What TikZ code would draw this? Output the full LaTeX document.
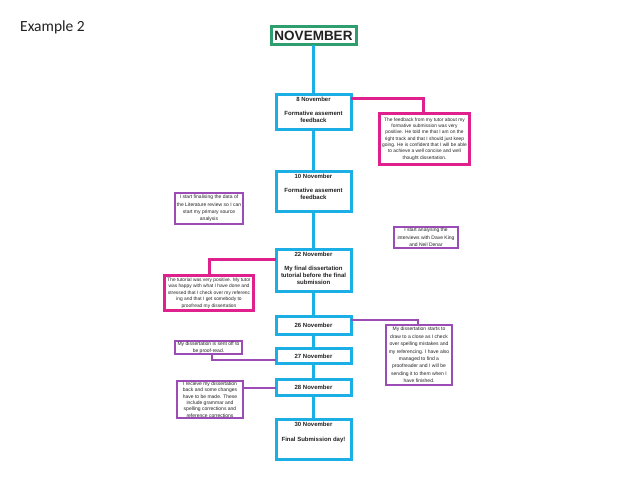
\documentclass[tikz,border=0pt]{standalone}
\usepackage{fontspec}
\setmainfont{Liberation Sans}
\newfontfamily\calib{Carlito}
\definecolor{tlblue}{HTML}{1CAFE5}
\definecolor{mgc}{HTML}{E0208C}
\definecolor{ppc}{HTML}{9B4DB5}
\definecolor{grn}{HTML}{2E9E6E}
\definecolor{txt}{HTML}{222222}
\begin{document}
\begin{tikzpicture}[x=1pt,y=-1pt,
  tl/.style={draw=tlblue,line width=3pt,fill=white,inner sep=0pt,outer sep=0pt,minimum width=75pt,text=txt,font=\bfseries\fontsize{6}{7}\selectfont},
  hd/.style={anchor=north,inner sep=0pt,align=center,text=txt,font=\bfseries\fontsize{6}{7}\selectfont},
  mg/.style={draw=mgc,line width=3pt,fill=white,inner sep=0pt,outer sep=0pt,align=center,text=txt},
  pp/.style={draw=ppc,line width=2pt,fill=white,inner sep=0pt,outer sep=0pt,align=center,text=txt},
  spine/.style={draw=tlblue,line width=3pt},
  mgline/.style={draw=mgc,line width=3pt},
  ppline/.style={draw=ppc,line width=2pt}]
\useasboundingbox (0,0) rectangle (638,479);
\fill[white] (0,0) rectangle (638,479);

\node[anchor=base west,inner sep=0pt,font=\calib\fontsize{15.5}{18}\selectfont,text=txt] (title) at (20,31) {Example 2};

% timeline boxes
\node[draw=grn,line width=3pt,fill=white,inner sep=0pt,outer sep=0pt,minimum width=85pt,minimum height=18pt,font=\bfseries\fontsize{13.5}{15}\selectfont,text=txt] (nov) at (313.5,35.5) {NOVEMBER};
\node[tl,minimum height=35pt] (n8) at (313.5,112) {};
\node[tl,minimum height=40pt] (n10) at (313.5,191.5) {};
\node[tl,minimum height=42pt] (n22) at (313.5,270.5) {};
\node[tl,minimum height=18pt] (n26) at (313.5,325.5) {26 November};
\node[tl,minimum height=15pt] (n27) at (313.5,356) {27 November};
\node[tl,minimum height=16pt] (n28) at (313.5,387.5) {28 November};
\node[tl,minimum height=40pt] (n30) at (313.5,439.5) {};

\node[hd] (h8) at ([yshift=-2pt]n8.north) {8 November\\[7pt]Formative assement\\feedback};
\node[hd] (h10) at ([yshift=-2.5pt]n10.north) {10 November\\[7pt]Formative assement\\feedback};
\node[hd] (h22) at ([yshift=-2.5pt]n22.north) {22 November\\[7pt]My final dissertation\\tutorial before the final\\submission};
\node[hd] (h30) at ([yshift=-2pt]n30.north) {30 November\\[8pt]Final Submission day!};

% spine
\draw[spine] (nov.south) -- (n8.north);
\draw[spine] (n8.south) -- (n10.north);
\draw[spine] (n10.south) -- (n22.north);
\draw[spine] (n22.south) -- (n26.north);
\draw[spine] (n26.south) -- (n27.north);
\draw[spine] (n27.south) -- (n28.north);
\draw[spine] (n28.south) -- (n30.north);

% side boxes
\node[mg,minimum width=90pt,minimum height=51pt,font=\fontsize{4.85}{6.3}\selectfont] (fb) at (424.5,139) {The feedback from my tutor about my\\formative submission was very\\positive. He told me that I am on the\\right track and that I should just keep\\going. He is confident that I will be able\\to achieve a well concise and well\\thought dissertation.};
\node[pp,minimum width=68pt,minimum height=31pt,font=\fontsize{5}{7.3}\selectfont] (lit) at (209,208.5) {I start finalising the data of\\the Literature review so I can\\start my primary source\\analysis};
\node[pp,minimum width=64pt,minimum height=21pt,font=\fontsize{5}{7.5}\selectfont] (intv) at (426,237.5) {I start analysing the\\interviews with Dave King\\and Neil Denar};
\node[mg,minimum width=89pt,minimum height=35pt,font=\fontsize{4.85}{6.5}\selectfont] (tut) at (209,293) {The tutorial was very positive. My tutor\\was happy with what I have done and\\stressed that I check over my referenc\\ing and that I get somebody to\\proofread my dissertation};
\node[pp,minimum width=66pt,minimum height=60pt,font=\fontsize{5}{7.4}\selectfont] (close) at (419,355) {My dissertation starts to\\draw to a close as I check\\over spelling mistakes and\\my referencing. I have also\\managed to find a\\proofreader and I will be\\sending it to them when I\\have finished.};
\node[pp,minimum width=67pt,minimum height=13pt,font=\fontsize{5}{7}\selectfont] (sent) at (208.5,347.5) {My dissertation is sent off to\\be proof-read.};
\node[pp,minimum width=66pt,minimum height=37pt,font=\fontsize{5}{6.4}\selectfont] (recv) at (210,399.5) {I recieve my dissertation\\back and some changes\\have to be made. These\\include grammar and\\spelling corrections and\\reference corrections};

% side connectors
\draw[mgline] ([yshift=14pt]n8.east) -| ([xshift=-1.5pt]fb.north);
\draw[mgline] ([yshift=11.5pt]n22.west) -| (tut.north);
\draw[ppline] ([yshift=5.5pt]n26.east) -| ([xshift=-1pt]close.north);
\draw[ppline] ([xshift=3.5pt]sent.south) |- ([yshift=-4pt]n27.west);
\draw[ppline] (n28.west) -- (n28.west -| recv.east);
\end{tikzpicture}
\end{document}
